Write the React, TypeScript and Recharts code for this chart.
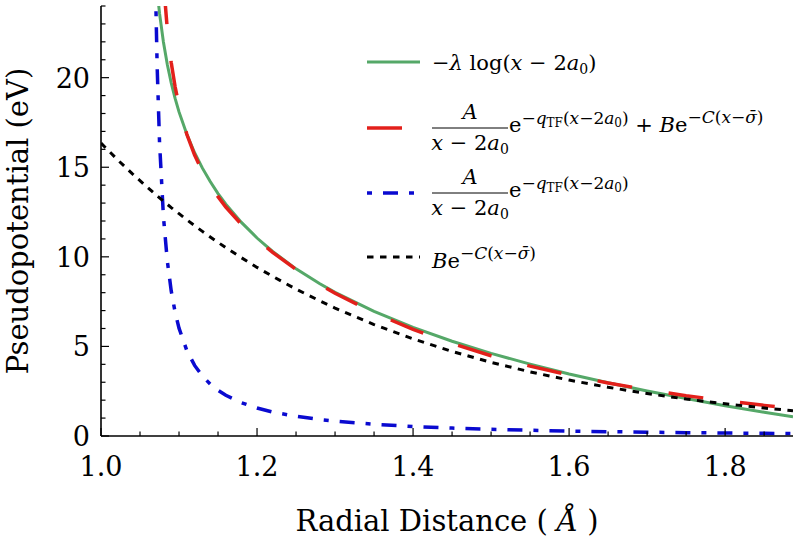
import React from "react";
import { LineChart, Line, XAxis, YAxis, Legend } from "recharts";

// ---- data ----
const xValues = [
  1.0, 1.02, 1.04, 1.06, 1.069, 1.07, 1.072, 1.075, 1.08, 1.085, 1.09, 1.095,
  1.1, 1.11, 1.12, 1.13, 1.14, 1.15, 1.16, 1.18, 1.2, 1.22, 1.25, 1.28, 1.3,
  1.35, 1.4, 1.45, 1.5, 1.55, 1.6, 1.65, 1.7, 1.75, 1.8, 1.85, 1.887,
];
const logValues = [
  null, null, null, null, 26.47, 25.9, 24.86, 23.6, 21.99, 20.73, 19.71, 18.84,
  18.09, 16.84, 15.81, 14.95, 14.2, 13.53, 12.94, 11.92, 11.05, 10.3, 9.33, 8.51, 8.02,
  6.96, 6.06, 5.29, 4.61, 4.01, 3.46, 2.97, 2.51, 2.09, 1.69, 1.33, 1.07,
];
const sumValues = [
  null, null, null, null, 41.0, 38.2, 34.0, 29.7, 25.37, 22.7, 20.85, 19.49,
  18.43, 16.84, 15.68, 14.76, 14.01, 13.36, 12.78, 11.81, 10.97, 10.25, 9.3, 8.47, 7.97,
  6.87, 5.95, 5.16, 4.48, 3.9, 3.4, 2.96, 2.58, 2.25, 1.97, 1.71, 1.55,
];
const screenedValues = [
  null, null, null, null, 27.5, 24.76, 20.6, 16.43, 12.26, 9.77, 8.1, 6.91,
  6.02, 4.77, 3.94, 3.34, 2.9, 2.55, 2.27, 1.86, 1.56, 1.34, 1.1, 0.92, 0.83,
  0.654, 0.532, 0.443, 0.374, 0.32, 0.277, 0.242, 0.213, 0.188, 0.167, 0.149, 0.138,
];
const expValues = [
  16.35, 15.47, 14.64, 13.86, 13.52, 13.48, 13.4, 13.29, 13.11, 12.93, 12.75, 12.58,
  12.41, 12.07, 11.74, 11.42, 11.11, 10.81, 10.51, 9.95, 9.41, 8.91, 8.2, 7.55, 7.14,
  6.22, 5.42, 4.72, 4.11, 3.58, 3.12, 2.72, 2.37, 2.06, 1.8, 1.56, 1.41,
];

const xDomain = [1.0, 1.887];
const yDomain = [0, 24];
const xTicks = [
  1.0, 1.05, 1.1, 1.15, 1.2, 1.25, 1.3, 1.35, 1.4, 1.45, 1.5, 1.55, 1.6, 1.65,
  1.7, 1.75, 1.8, 1.85,
];
const xMajorTicks = [1.0, 1.2, 1.4, 1.6, 1.8];
const yTicks = [
  0, 1, 2, 3, 4, 5, 6, 7, 8, 9, 10, 11, 12, 13, 14, 15, 16, 17, 18, 19, 20, 21, 22, 23, 24,
];
const yMajorTicks = [0, 5, 10, 15, 20];

const xTitle = "Radial Distance";
const yTitle = "Pseudopotential (eV)";

const rows = xValues.map((x, i) => ({
  x,
  log: logValues[i],
  sum: sumValues[i],
  screened: screenedValues[i],
  exp: expValues[i],
}));

const FONT = "DejaVu Serif";
const GREEN = "#55a868";
const RED = "#e3201b";
const BLUE = "#0a0ad0";
const BLACK = "#000000";

const series = [
  { key: "log", color: GREEN, width: 3, dash: undefined, legendOffset: 0 },
  { key: "sum", color: RED, width: 3.5, dash: "35 37", legendOffset: 0 },
  { key: "screened", color: BLUE, width: 3.5, dash: "15 11 5 11", legendOffset: 26 },
  { key: "exp", color: BLACK, width: 3, dash: "6.5 6.5", legendOffset: 0 },
];

const isMajor = (v: number, majors: number[]) =>
  majors.some((m) => Math.abs(m - v) < 1e-6);

const MAJ = 8;
const MIN = 4.5;
const TICK_STROKE = 1.2;
const TICK_FONT = 27;
const TITLE_FONT = 29;

const BottomTick = (p: any) => {
  const { x, y, payload } = p;
  const major = isMajor(payload.value, xMajorTicks);
  return (
    <g>
      <line x1={x} x2={x} y1={y} y2={y - (major ? MAJ : MIN)} stroke="#000" strokeWidth={TICK_STROKE} />
      {major && (
        <text x={x} y={y + 40} textAnchor="middle" fontSize={TICK_FONT} fontFamily={FONT} fill="#000">
          {payload.value.toFixed(1)}
        </text>
      )}
    </g>
  );
};
const TopTick = (p: any) => {
  const { x, y, payload } = p;
  const major = isMajor(payload.value, xMajorTicks);
  return <line x1={x} x2={x} y1={y} y2={y + (major ? MAJ : MIN)} stroke="#000" strokeWidth={TICK_STROKE} />;
};
const LeftTick = (p: any) => {
  const { x, y, payload } = p;
  const major = isMajor(payload.value, yMajorTicks);
  return (
    <g>
      <line x1={x} x2={x + (major ? MAJ : MIN)} y1={y} y2={y} stroke="#000" strokeWidth={TICK_STROKE} />
      {major && (
        <text x={x - 11} y={y + 10} textAnchor="end" fontSize={TICK_FONT} fontFamily={FONT} fill="#000">
          {String(payload.value)}
        </text>
      )}
    </g>
  );
};
const RightTick = (p: any) => {
  const { x, y, payload } = p;
  const major = isMajor(payload.value, yMajorTicks);
  return <line x1={x} x2={x - (major ? MAJ : MIN)} y1={y} y2={y} stroke="#000" strokeWidth={TICK_STROKE} />;
};

const XTitle = (p: any) => {
  const vb = p.viewBox || { x: 0, y: 0, width: 0, height: 0 };
  return (
    <text x={vb.x + vb.width / 2} y={vb.y + 95} textAnchor="middle" fontSize={TITLE_FONT} fontFamily={FONT} fill="#000">
      {xTitle + " ( "}
      <tspan fontStyle="italic">Å</tspan>
      {" )"}
    </text>
  );
};
const YTitle = (p: any) => {
  const vb = p.viewBox || { x: 0, y: 0, width: 0, height: 0 };
  const cx = vb.x + 28;
  const cy = vb.y + vb.height / 2;
  return (
    <text x={cx} y={cy} transform={`rotate(-90 ${cx} ${cy})`} textAnchor="middle" fontSize={TITLE_FONT} fontFamily={FONT} fill="#000">
      {yTitle}
    </text>
  );
};

// math helpers for the legend
const M = 21; // main size
const S = 17; // superscript size
const SS = 12; // second level

const ExpScreened = ({ base }: { base: number }) => (
  <>
    <tspan y={base - 8} fontSize={S}>−</tspan>
    <tspan fontSize={S} fontStyle="italic">q</tspan>
    <tspan fontSize={SS} y={base - 5}>TF</tspan>
    <tspan fontSize={S} y={base - 8}>(</tspan>
    <tspan fontSize={S} fontStyle="italic">x</tspan>
    <tspan fontSize={S}>−2</tspan>
    <tspan fontSize={S} fontStyle="italic">a</tspan>
    <tspan fontSize={SS} y={base - 5}>0</tspan>
    <tspan fontSize={S} y={base - 8}>)</tspan>
  </>
);
const ExpRepulsive = ({ base }: { base: number }) => (
  <>
    <tspan y={base - 9} fontSize={S}>−</tspan>
    <tspan fontSize={S} fontStyle="italic">C</tspan>
    <tspan fontSize={S}>(</tspan>
    <tspan fontSize={S} fontStyle="italic">x</tspan>
    <tspan fontSize={S}>−</tspan>
    <tspan fontSize={S} fontStyle="italic">σ̄</tspan>
    <tspan fontSize={S}>)</tspan>
  </>
);
const Fraction = ({ x0, Y }: { x0: number; Y: number }) => (
  <g>
    <text x={x0 + 38} y={Y - 9} textAnchor="middle" fontSize={M} fontStyle="italic" fontFamily={FONT}>A</text>
    <line x1={x0} x2={x0 + 76} y1={Y} y2={Y} stroke="#000" strokeWidth={1} />
    <text x={x0 + 38} y={Y + 22} textAnchor="middle" fontSize={M} fontFamily={FONT}>
      <tspan fontStyle="italic">x</tspan>
      <tspan> − 2</tspan>
      <tspan fontStyle="italic">a</tspan>
      <tspan fontSize={14} dy={4}>0</tspan>
    </text>
  </g>
);

const LegendBox = () => {
  const handleY = [32, 98, 163, 227];
  return (
    <svg width={439} height={260} style={{ display: "block", overflow: "visible" }} fontFamily={FONT}>
      {series.map((s, i) => (
        <line
          key={s.key}
          x1={7}
          x2={60}
          y1={handleY[i]}
          y2={handleY[i]}
          stroke={s.color}
          strokeWidth={s.width}
          strokeDasharray={s.dash}
          strokeDashoffset={s.legendOffset}
        />
      ))}
      <text x={72} y={40} fontSize={M} fill="#000" fontFamily={FONT}>
        <tspan>−</tspan>
        <tspan fontStyle="italic">λ</tspan>
        <tspan> log(</tspan>
        <tspan fontStyle="italic">x</tspan>
        <tspan> − 2</tspan>
        <tspan fontStyle="italic">a</tspan>
        <tspan fontSize={14} y={44}>0</tspan>
        <tspan y={40}>)</tspan>
      </text>
      <Fraction x0={72} Y={98} />
      <text x={149} y={102} fontSize={M} fill="#000" fontFamily={FONT}>
        <tspan>e</tspan>
        <ExpScreened base={102} />
        <tspan y={102} fontSize={M}> + </tspan>
        <tspan fontStyle="italic">B</tspan>
        <tspan>e</tspan>
        <ExpRepulsive base={102} />
      </text>
      <Fraction x0={72} Y={163} />
      <text x={149} y={167} fontSize={M} fill="#000" fontFamily={FONT}>
        <tspan>e</tspan>
        <ExpScreened base={167} />
      </text>
      <text x={72} y={238} fontSize={M} fill="#000" fontFamily={FONT}>
        <tspan fontStyle="italic">B</tspan>
        <tspan>e</tspan>
        <ExpRepulsive base={238} />
      </text>
    </svg>
  );
};

export default function App() {
  return (
    <div style={{ position: "absolute", left: 0, top: 0, width: 799, height: 549, background: "#fff" }}>
      <LineChart width={799} height={549} data={rows} margin={{ top: 6, right: 6, bottom: 0, left: 0 }}>
        <XAxis
          dataKey="x"
          type="number"
          domain={xDomain}
          allowDataOverflow
          ticks={xTicks}
          interval={0}
          height={113}
          tickSize={0}
          tickMargin={0}
          tickLine={false}
          tick={<BottomTick />}
          axisLine={{ stroke: "#000", strokeWidth: 1.6 }}
          label={<XTitle />}
        />
        <XAxis
          xAxisId="top"
          orientation="top"
          dataKey="x"
          type="number"
          domain={xDomain}
          allowDataOverflow
          ticks={xTicks}
          interval={0}
          height={0}
          tickSize={0}
          tickMargin={0}
          tickLine={false}
          tick={<TopTick />}
          axisLine={{ stroke: "#000", strokeWidth: 1.6 }}
        />
        <YAxis
          type="number"
          domain={yDomain}
          allowDataOverflow
          ticks={yTicks}
          interval={0}
          width={101}
          tickSize={0}
          tickMargin={0}
          tickLine={false}
          tick={<LeftTick />}
          axisLine={{ stroke: "#000", strokeWidth: 1.6 }}
          label={<YTitle />}
        />
        <YAxis
          yAxisId="right"
          orientation="right"
          type="number"
          domain={yDomain}
          allowDataOverflow
          ticks={yTicks}
          interval={0}
          width={0}
          tickSize={0}
          tickMargin={0}
          tickLine={false}
          tick={<RightTick />}
          axisLine={{ stroke: "#000", strokeWidth: 1.6 }}
        />
        {series.map((s) => (
          <Line
            key={s.key}
            dataKey={s.key}
            type="linear"
            stroke={s.color}
            strokeWidth={s.width}
            strokeDasharray={s.dash}
            dot={false}
            activeDot={false}
            isAnimationActive={false}
            connectNulls={false}
          />
        ))}
        <Legend
          layout="horizontal"
          verticalAlign="middle"
          align="center"
          content={<LegendBox />}
          wrapperStyle={{ position: "absolute", left: 360, top: 30, width: 439, height: 260 }}
        />
      </LineChart>
    </div>
  );
}
